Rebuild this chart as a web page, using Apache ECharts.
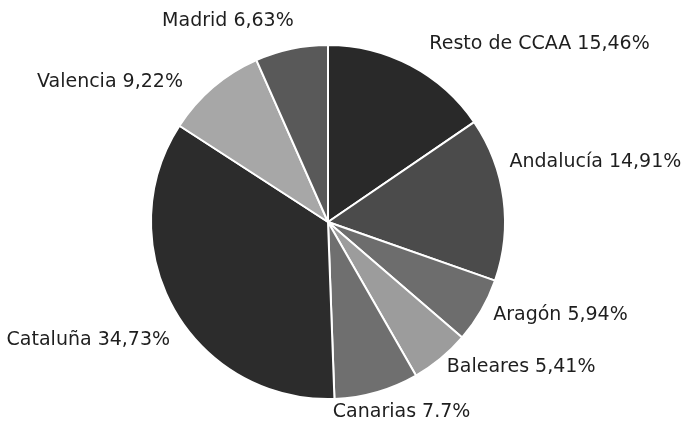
<!DOCTYPE html>
<html><head><meta charset="utf-8">
<script src="https://cdn.jsdelivr.net/npm/echarts@6/dist/echarts.min.js"></script>
<style>html,body{margin:0;padding:0;background:#fff}#c{width:681px;height:424px}</style>
</head><body><div id="c"></div>
<script>
var categories = ["Resto de CCAA","Andalucía","Aragón","Baleares","Canarias","Cataluña","Valencia","Madrid"];
var values = [15.46,14.91,5.94,5.41,7.7,34.73,9.22,6.63];
var valueLabels = ["15,46%","14,91%","5,94%","5,41%","7.7%","34,73%","9,22%","6,63%"];
var colors = ["#292929","#4b4b4b","#6d6d6d","#9c9c9c","#6f6f6f","#2c2c2c","#a7a7a7","#595959"];
// label nudges (style only)
var labelNudge = [[10,-14],[-7,-36],[0,0],[-4,2],[-51,12],[8,27],[-20,1],[9,-20]];

var chart = echarts.init(document.getElementById('c'), null, {renderer:'canvas'});
chart.setOption({
  animation:false,
  series:[{
    type:'pie',
    center:[328,222],
    radius:[0,177],
    startAngle:90,
    clockwise:true,
    avoidLabelOverlap:false,
    itemStyle:{borderColor:'#fff',borderWidth:2},
    label:{show:true,position:'outside',color:'#1e1e1e',fontFamily:'DejaVu Sans',fontSize:19,
      formatter:function(p){return p.name+' '+valueLabels[p.dataIndex];}},
    labelLine:{show:false,length:8,length2:0},
    labelLayout:function(p){var n=labelNudge[p.dataIndex];return {dx:n[0],dy:n[1]};},
    data:categories.map(function(n,i){return {name:n,value:values[i],itemStyle:{color:colors[i]}};})
  }]
});
</script></body></html>
